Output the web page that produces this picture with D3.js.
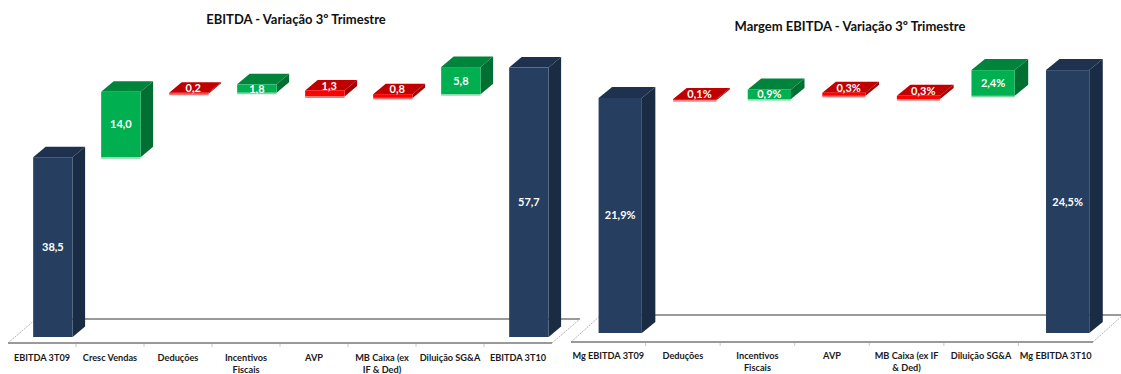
<!DOCTYPE html>
<html><head><meta charset="utf-8">
<script src="https://cdn.jsdelivr.net/npm/d3@7"></script>
<style>body{margin:0;background:#fff} svg{display:block}</style>
</head><body>
<svg id="c" width="1121" height="374"></svg>
<script>
// ---- data ----
const ebitdaTitle = "EBITDA - Variação 3º Trimestre";
const ebitdaCategories = ["EBITDA 3T09","Cresc Vendas","Deduções","Incentivos\nFiscais","AVP","MB Caixa (ex\nIF & Ded)","Diluição SG&A","EBITDA 3T10"];
const ebitdaValues = [38.5, 14.0, -0.2, 1.8, -1.3, -0.8, 5.8, 57.7];
const ebitdaLabels = ["38,5","14,0","0,2","1,8","1,3","0,8","5,8","57,7"];

const margemTitle = "Margem EBITDA - Variação 3º Trimestre";
const margemCategories = ["Mg EBITDA 3T09","Deduções","Incentivos\nFiscais","AVP","MB Caixa (ex IF\n& Ded)","Diluição SG&A","Mg EBITDA 3T10"];
const margemValues = [21.9, -0.1, 0.9, -0.3, -0.3, 2.4, 24.5];
const margemLabels = ["21,9%","0,1%","0,9%","0,3%","0,3%","2,4%","24,5%"];

// ---- styles ----
const FONT = "Lato, 'Open Sans', sans-serif";
const COL = {
  total:{front:"#263f61", top:"#1e314e", side:"#1a2b44"},
  up:{front:"#00b050", top:"#00843c", side:"#006f31", strip:"#7fd6a5"},
  down:{front:"#ff0000", top:"#c00000", side:"#a30000", strip:"#ff7070"}
};

const svg = d3.select("#c");

function waterfall(cfg){
  const g = svg.append("g");
  const x = d3.scaleBand().domain(cfg.cats).range([cfg.x0, cfg.x1]);
  const vmax = d3.max(cfg.vals);
  const y = d3.scaleLinear().domain([0, vmax]).range([cfg.yZero, cfg.yZero - vmax*cfg.ppu]);
  const bw = x.bandwidth();
  const w = bw*0.58, dx = cfg.dx, dy = cfg.dy;

  // segments
  let run = 0;
  const segs = cfg.vals.map((v,i)=>{
    let lo, hi, kind;
    if(i===0 || i===cfg.vals.length-1){ lo=0; hi=v; run=v; kind="total"; }
    else if(v>=0){ lo=run; hi=run+v; run+=v; kind="up"; }
    else { run+=v; lo=run+v; hi=run; kind="down"; }
    return {cat:cfg.cats[i], lo, hi, kind, label:cfg.labels[i]};
  });

  // title
  g.append("text").attr("x", cfg.titleX).attr("y", cfg.titleY)
    .attr("text-anchor","middle").attr("font-family",FONT).attr("font-weight","bold")
    .attr("font-size",13).attr("fill","#111").text(cfg.title);

  // floor
  const fy = cfg.floorY, fdx = cfg.floorDx, fdy = cfg.floorDy;
  g.append("line").attr("x1",cfg.x0+fdx).attr("x2",cfg.x1+fdx).attr("y1",fy+fdy).attr("y2",fy+fdy)
    .attr("stroke","#9a9a9a").attr("stroke-width",2);
  [cfg.x0, cfg.x1].forEach(xx=>{
    g.append("line").attr("x1",xx).attr("y1",fy).attr("x2",xx+fdx).attr("y2",fy+fdy)
      .attr("stroke","#b5b5b5").attr("stroke-width",1).attr("stroke-dasharray","2,1");
  });
  g.append("line").attr("x1",cfg.x0).attr("x2",cfg.x1).attr("y1",fy).attr("y2",fy)
    .attr("stroke","#9a9a9a").attr("stroke-width",2);
  cfg.cats.forEach((c,i)=>{
    const xx = x(c);
    if(i>0) g.append("line").attr("x1",xx).attr("x2",xx).attr("y1",fy+1).attr("y2",fy+4)
      .attr("stroke","#c8c8c8").attr("stroke-width",1);
  });

  // bars
  segs.forEach(s=>{
    const c = COL[s.kind];
    const bx = x(s.cat) + bw*0.37;
    const yt = y(s.hi), yb = y(s.lo);
    const h = Math.max(1, yb-yt);
    const yb2 = yt + h;
    g.append("polygon").attr("points",[[bx+w,yt],[bx+w+dx,yt+dy],[bx+w+dx,yb2+dy],[bx+w,yb2]].join(" "))
      .attr("fill",c.side);
    g.append("polygon").attr("points",[[bx,yt],[bx+dx,yt+dy],[bx+w+dx,yt+dy],[bx+w,yt]].join(" "))
      .attr("fill",c.top);
    g.append("rect").attr("x",bx).attr("y",yt).attr("width",w).attr("height",h).attr("fill",c.front);
    if(c.strip) g.append("rect").attr("x",bx).attr("y",yb2).attr("width",w).attr("height",1.5).attr("fill",c.strip);
    // label
    let lx = bx + w/2, ly = yt + h/2;
    if(h < 7){ lx += dx*0.35; ly = yt + dy*0.45; }
    g.append("text").attr("x",lx).attr("y",ly).attr("dy","0.36em").attr("text-anchor","middle")
      .attr("font-family",FONT).attr("font-weight","bold").attr("font-size",11).attr("fill","#fff")
      .text(s.label);
  });

  // category axis
  const ax = g.append("g").attr("transform",`translate(0,${cfg.labelY})`)
    .call(d3.axisBottom(x).tickSize(0).tickPadding(0));
  ax.select(".domain").remove();
  ax.selectAll("text").each(function(d){
    const t = d3.select(this);
    t.text(null).attr("font-family",FONT).attr("font-weight","bold").attr("font-size",9.2)
      .attr("fill","#1a1a1a").attr("dy",null).attr("y",0);
    d.split("\n").forEach((ln,k)=>{
      t.append("tspan").attr("x",0).attr("y",k*12).text(ln);
    });
  });
}

waterfall({title:ebitdaTitle, cats:ebitdaCategories, vals:ebitdaValues, labels:ebitdaLabels,
  x0:8, x1:552, yZero:337, ppu:4.67, dx:12.5, dy:-10.5,
  floorY:343, floorDx:28, floorDy:-24, labelY:361, titleX:296, titleY:24});
waterfall({title:margemTitle, cats:margemCategories, vals:margemValues, labels:margemLabels,
  x0:571, x1:1093, yZero:333, ppu:10.73, dx:13.5, dy:-11,
  floorY:342, floorDx:30, floorDy:-27, labelY:359, titleX:850, titleY:31});
</script>
</body></html>
